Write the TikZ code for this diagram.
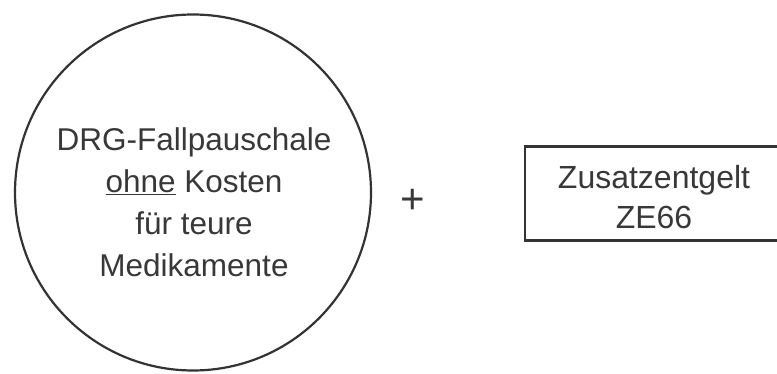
\documentclass[tikz,border=0pt]{standalone}
\usepackage{fontspec}
\setmainfont{Liberation Sans}
\begin{document}
\begin{tikzpicture}[x=1pt,y=-1pt,
  lbl/.style={text=black!78, font=\fontsize{31.5}{42}\selectfont, align=center, inner sep=0pt},
  round/.style={circle, draw=black!80, line width=2.2pt, minimum size=356pt, inner sep=0pt},
  boxed/.style={rectangle, draw=black!80, line width=2.2pt, minimum width=258pt, minimum height=94pt, inner sep=0pt}]
\useasboundingbox (0,0) rectangle (777,374);
\clip (0,0) rectangle (777,374);
\node[round] (drg) at (193,192.5) {};
\node[lbl] (drgtext) at (194,202) {DRG-Fallpauschale\\\underline{ohne} Kosten\\für teure\\Medikamente};
\node[lbl, font=\fontsize{42}{42}\selectfont] (plus) at (413,201) {+};
\node[boxed] (ze) at (654,193.5) {};
\node[lbl, font=\fontsize{32}{40}\selectfont] (zetext) at (654,197) {Zusatzentgelt\\ZE66};
\end{tikzpicture}
\end{document}
